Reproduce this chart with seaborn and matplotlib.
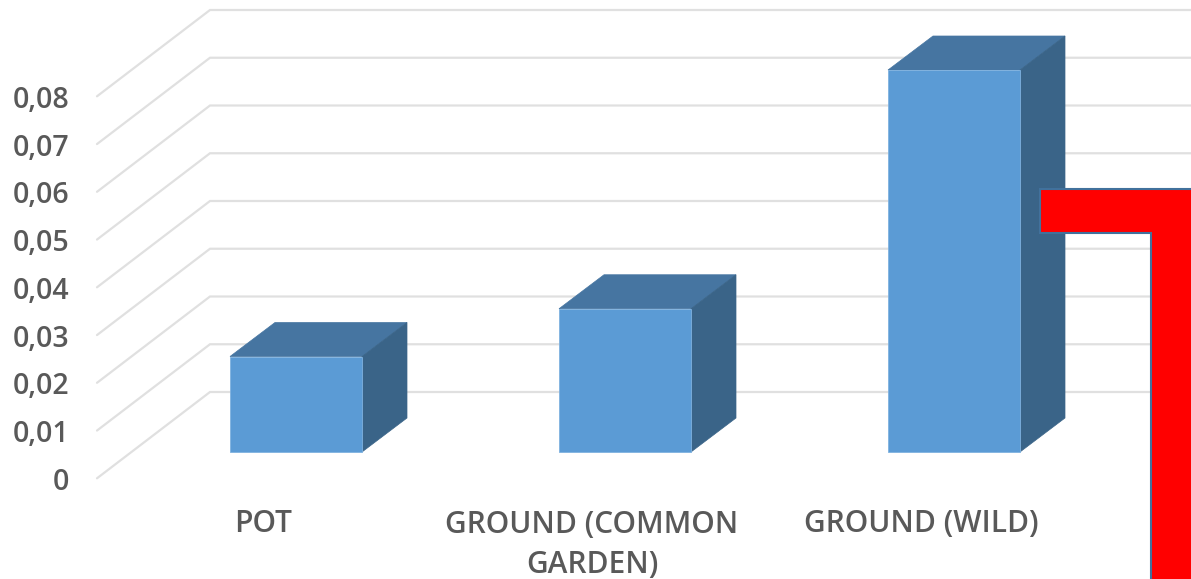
import matplotlib
matplotlib.use("Agg")
import matplotlib.pyplot as plt
import pandas as pd
import seaborn as sns
from matplotlib.patches import Polygon

categories = ["POT", "GROUND (COMMON\nGARDEN)", "GROUND (WILD)"]
values = [0.02, 0.03, 0.08]
tick_values = [0, 0.01, 0.02, 0.03, 0.04, 0.05, 0.06, 0.07, 0.08]
tick_labels = ["0", "0,01", "0,02", "0,03", "0,04", "0,05", "0,06", "0,07", "0,08"]

FRONT = "#5B9BD5"
TOP = "#4675A1"
SIDE = "#3A6488"
GRID = "#E0E0E0"
TEXT = "#595959"
W, H = 1191, 579
BAR_WIDTH = 132 / 329

sns.set_theme(style="white", rc={"font.family": ["Open Sans", "DejaVu Sans"]})
fig = plt.figure(figsize=(W / 100, H / 100), dpi=100)
ax = fig.add_axes([0, 0, 1, 1])

df = pd.DataFrame({"category": categories, "value": values})
sns.barplot(data=df, x="category", y="value", color=FRONT, saturation=1,
            width=BAR_WIDTH, ax=ax, zorder=3, edgecolor="#7FB2E0", linewidth=0.6)


def px(x, y):
    """Convert canvas pixels (origin top left) to data coordinates."""
    return ((x - 296) / 329, (452 - y) / 4775)


# Scale: 329 px between categories, 4775 px per unit of value, baseline 452 px from the top
ax.set_xlim(px(0, 0)[0], px(W, 0)[0])
ax.set_ylim(px(0, H)[1], px(0, 0)[1])
ax.set_xlabel("")
ax.set_ylabel("")
ax.set_xticks([])
ax.set_yticks([])
sns.despine(ax=ax, left=True, bottom=True)

# Depth of the bars and of the chart floor, in data units
bar_dx, bar_dy = 45 / 329, 34 / 4775
wall_dx, wall_dy = 113 / 329, 86.3 / 4775
front_x, front_base = px(97, 478.3)
label_x = px(69, 0)[0]
label_drop = 0.5 / 4775

# Wall gridlines with their receding floor segments
for v, label in zip(tick_values, tick_labels):
    y0 = front_base + v
    ax.plot([front_x, front_x + wall_dx, ax.get_xlim()[1]],
            [y0, y0 + wall_dy, y0 + wall_dy],
            color=GRID, lw=1.6, zorder=1, solid_joinstyle="miter")
    ax.text(label_x, y0 - label_drop, label, ha="right", va="center_baseline",
            fontsize=20.5, fontweight="semibold", color=TEXT)

# Top and side faces of each bar
half = BAR_WIDTH / 2
for i, v in enumerate(values):
    ax.add_patch(Polygon([(i - half, v), (i + half, v),
                          (i + half + bar_dx, v + bar_dy), (i - half + bar_dx, v + bar_dy)],
                         closed=True, facecolor=TOP, edgecolor=TOP, lw=0.5, zorder=2.5))
    ax.add_patch(Polygon([(i + half, 0), (i + half + bar_dx, bar_dy),
                          (i + half + bar_dx, v + bar_dy), (i + half, v)],
                         closed=True, facecolor=SIDE, edgecolor=SIDE, lw=0.5, zorder=2.5))

# Category labels sit left of the bar centres; two-line labels are centred lower
label_shift = -33 / 329
for i, name in enumerate(categories):
    row = 545 if "\n" in name else 524
    ax.text(i + label_shift, px(0, row)[1], name, ha="center", va="center",
            fontsize=21.5, fontweight="semibold", color=TEXT, linespacing=1.47)

# Red bent callout shaft running off the right and bottom edges
ax.add_patch(Polygon([px(1040, 189), px(1200, 189), px(1200, 590), px(1151, 590),
                      px(1151, 233), px(1040, 233)],
                     closed=True, facecolor="#FF0000", edgecolor="#41719C", lw=1.5,
                     zorder=5, joinstyle="miter"))

fig.savefig("out.png", dpi=100)
